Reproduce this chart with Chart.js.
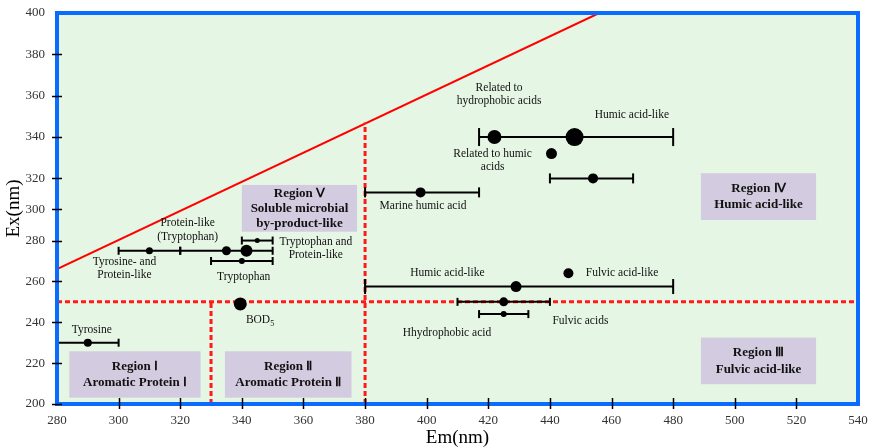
<!DOCTYPE html>
<html><head><meta charset="utf-8">
<script src="https://cdn.jsdelivr.net/npm/chart.js@4.4.0/dist/chart.umd.min.js"></script>
<style>html,body{margin:0;padding:0;background:#fff}#wrap{width:869px;height:448px}</style>
</head><body><div id="wrap"><canvas id="c" width="869" height="448"></canvas></div>
<script>
// ---------- data ----------
const xTickValues = [280, 300, 320, 340, 360, 380, 400, 420, 440, 460, 480, 500, 520, 540];
const yTickValues = [200, 220, 240, 260, 280, 300, 320, 340, 360, 380, 400];

// fluorescence peaks (Em, Ex) and their Em ranges
const emValues = [290, 310, 335, 341.5, 345, 340, 339.5, 398, 422, 448, 440.5, 454, 429, 446, 425, 425];
const exValues = [230, 275, 275, 275, 280, 270, 249, 311, 340, 340, 332, 320, 257.5, 264, 250, 244];
const emLow  = [280, 300, 320, null, 340, 330, null, 380, 417, null, null, 440, 380, null, 410, 417];
const emHigh = [300, 320, 350, null, 350, 350, null, 417, 480, null, null, 467, 480, null, 440, 433];

// boundary lines
const diagEm = [280, 456];
const diagEx = [266, 400];
const hBoundaryEm = [280, 540];
const hBoundaryEx = [250, 250];
const v1BoundaryEm = [330, 330];
const v1BoundaryEx = [200, 250];
const v2BoundaryEm = [380, 380];
const v2BoundaryEx = [200, 347];

// region labels
const regionNames = [
  ['Region Ⅰ', 'Aromatic Protein Ⅰ'],
  ['Region Ⅱ', 'Aromatic Protein Ⅱ'],
  ['Region Ⅴ', 'Soluble microbial', 'by-product-like'],
  ['Region Ⅳ', 'Humic acid-like'],
  ['Region Ⅲ', 'Fulvic acid-like']
];
const regionEmRange = [[284, 326.6], [334.5, 375.6], [340, 377.4], [489, 526.4], [489, 526.4]];
const regionExRange = [[203.1, 225.8], [203.1, 225.8], [285.7, 315.8], [293.2, 322.5], [209.7, 232.5]];

// peak annotations
const annotationTexts = [
  ['Tyrosine'], ['Tyrosine- and', 'Protein-like'], ['Protein-like', '(Tryptophan)'],
  ['Tryptophan and', 'Protein-like'], ['Tryptophan'], ['BOD'], ['Marine humic acid'],
  ['Related to', 'hydrophobic acids'], ['Humic acid-like'], ['Related to humic', 'acids'],
  ['Humic acid-like'], ['Fulvic acid-like'], ['Fulvic acids'], ['Hhydrophobic acid']
];
const annotationSub = ['', '', '', '', '', '5', '', '', '', '', '', '', '', ''];
const annotationEm = [291.3, 301.9, 322.4, 364, 340.6, 345.9, 398.8, 423.5, 466.6, 421.4, 406.7, 463.4, 449.9, 406.6];
const annotationEx = [236.3, 266.4, 286.8, 276.2, 262.3, 241.2, 302.3, 360.6, 350.5, 328.6, 264.2, 264.2, 240.4, 234.7];

// ---------- styles ----------
const pointRadius = [4, 3.5, 4.5, 6, 2.5, 3, 6.5, 5, 7, 9, 5.5, 5, 5.5, 5, 4.5, 3];
const capHalf = [4, 4, 4, 0, 4, 4, 0, 5, 9, 0, 0, 5, 7.5, 0, 4, 4];
const SERIF = '"Liberation Serif", "Times New Roman", serif';

// piecewise y axis (the reference axis is compressed between 280 and 320)
const Y_BREAKS = [200, 280, 320, 400];
const Y_DECIMALS = [0, 0.418, 0.577, 1];
function toDec(v) {
  for (let i = 0; i < Y_BREAKS.length - 1; i++) {
    if (v <= Y_BREAKS[i + 1] || i === Y_BREAKS.length - 2) {
      const t = (v - Y_BREAKS[i]) / (Y_BREAKS[i + 1] - Y_BREAKS[i]);
      return Y_DECIMALS[i] + t * (Y_DECIMALS[i + 1] - Y_DECIMALS[i]);
    }
  }
  return 0;
}
function fromDec(d) {
  for (let i = 0; i < Y_DECIMALS.length - 1; i++) {
    if (d <= Y_DECIMALS[i + 1] || i === Y_DECIMALS.length - 2) {
      const t = (d - Y_DECIMALS[i]) / (Y_DECIMALS[i + 1] - Y_DECIMALS[i]);
      return Y_BREAKS[i] + t * (Y_BREAKS[i + 1] - Y_BREAKS[i]);
    }
  }
  return 200;
}
class PiecewiseLinearScale extends Chart.LinearScale {
  getPixelForValue(value) {
    if (value === null || value === undefined || isNaN(value)) return NaN;
    return this.getPixelForDecimal(toDec(value));
  }
  getValueForPixel(pixel) {
    return fromDec(this.getDecimalForPixel(pixel));
  }
}
PiecewiseLinearScale.id = 'piecewiseLinear';
PiecewiseLinearScale.defaults = Chart.LinearScale.defaults;
Chart.register(PiecewiseLinearScale);

// ---------- datasets ----------
const pts = (xs, ys) => xs.map((x, i) => ({x: x, y: ys[i]}));
const datasets = [];
datasets.push({
  label: 'peaks', data: pts(emValues, exValues), pointRadius: pointRadius,
  pointBackgroundColor: '#000', pointBorderColor: '#000', pointBorderWidth: 0, order: 0
});
emLow.forEach((lo, i) => {
  if (lo === null) return;
  datasets.push({
    label: 'range' + i, data: pts([lo, emHigh[i]], [exValues[i], exValues[i]]), showLine: true,
    borderColor: '#000', borderWidth: 2, pointStyle: 'line', pointRotation: 90,
    pointRadius: capHalf[i], pointBorderColor: '#000', pointBorderWidth: 2, order: 1
  });
});
[[hBoundaryEm, hBoundaryEx], [v1BoundaryEm, v1BoundaryEx], [v2BoundaryEm, v2BoundaryEx]].forEach((b, k) => {
  datasets.push({
    label: 'boundary' + k, data: pts(b[0], b[1]), showLine: true, borderColor: '#ff1a1a',
    borderWidth: 3, borderDash: [5, 3], pointRadius: 0, order: 2
  });
});
datasets.push({
  label: 'diagonal', data: pts(diagEm, diagEx), showLine: true, borderColor: '#ff0000',
  borderWidth: 2, pointRadius: 0, order: 3
});

// ---------- plugins ----------
const decorPlugin = {
  id: 'decor',
  beforeDraw(chart) {
    const {ctx, chartArea: a} = chart;
    ctx.save();
    ctx.fillStyle = '#e6f6e5';
    ctx.fillRect(a.left, a.top, a.right - a.left, a.bottom - a.top);
    ctx.restore();
  },
  beforeDatasetsDraw(chart) {
    const {ctx, scales: {x, y}} = chart;
    ctx.save();
    regionNames.forEach((lines, i) => {
      const x0 = x.getPixelForValue(regionEmRange[i][0]);
      const x1 = x.getPixelForValue(regionEmRange[i][1]);
      const y0 = y.getPixelForValue(regionExRange[i][1]);
      const y1 = y.getPixelForValue(regionExRange[i][0]);
      ctx.fillStyle = '#d3cbdf';
      ctx.fillRect(x0, y0, x1 - x0, y1 - y0);
      ctx.fillStyle = '#111';
      ctx.font = 'bold 13px ' + SERIF;
      ctx.textAlign = 'center';
      ctx.textBaseline = 'middle';
      const lh = lines.length > 2 ? 15 : 16.5;
      const cx = (x0 + x1) / 2, cy = (y0 + y1) / 2;
      lines.forEach((t, j) => ctx.fillText(t, cx, cy + (j - (lines.length - 1) / 2) * lh));
    });
    ctx.restore();
  },
  afterDatasetsDraw(chart) {
    const {ctx, scales: {x, y}} = chart;
    ctx.save();
    ctx.fillStyle = '#111';
    ctx.textBaseline = 'middle';
    annotationTexts.forEach((lines, i) => {
      const cx = x.getPixelForValue(annotationEm[i]);
      const cy = y.getPixelForValue(annotationEx[i]);
      const lh = 13.6;
      ctx.font = '11.5px ' + SERIF;
      if (annotationSub[i]) {
        const w1 = ctx.measureText(lines[0]).width;
        ctx.font = '8px ' + SERIF;
        const w2 = ctx.measureText(annotationSub[i]).width;
        const sx = cx - (w1 + w2) / 2;
        ctx.textAlign = 'left';
        ctx.font = '11.5px ' + SERIF;
        ctx.fillText(lines[0], sx, cy);
        ctx.font = '8px ' + SERIF;
        ctx.fillText(annotationSub[i], sx + w1, cy + 4);
        return;
      }
      ctx.textAlign = 'center';
      lines.forEach((t, j) => ctx.fillText(t, cx, cy + (j - (lines.length - 1) / 2) * lh));
    });
    ctx.restore();
  },
  afterDraw(chart) {
    const {ctx, chartArea: a, scales: {x, y}} = chart;
    ctx.save();
    ctx.strokeStyle = '#0a6cff';
    ctx.lineWidth = 4;
    ctx.strokeRect(a.left, a.top, a.right - a.left, a.bottom - a.top);
    ctx.strokeStyle = '#000';
    ctx.lineWidth = 1.5;
    ctx.beginPath();
    yTickValues.forEach(v => {
      if (v === 400) return;
      const py = Math.round(y.getPixelForValue(v)) + 0.5;
      ctx.moveTo(a.left - 5, py); ctx.lineTo(a.left + 5, py);
    });
    xTickValues.forEach(v => {
      if (v === 280 || v === 540) return;
      const px = Math.round(x.getPixelForValue(v)) + 0.5;
      ctx.moveTo(px, a.bottom - 6); ctx.lineTo(px, a.bottom + 5);
    });
    ctx.stroke();
    ctx.restore();
  }
};

// ---------- chart ----------
new Chart(document.getElementById('c').getContext('2d'), {
  type: 'scatter',
  data: {datasets: datasets},
  options: {
    responsive: false, animation: false, devicePixelRatio: 1,
    layout: {padding: {top: 13, right: 9, left: 0, bottom: 0}},
    plugins: {legend: {display: false}, tooltip: {enabled: false}},
    scales: {
      x: {
        type: 'linear', min: 280, max: 540,
        afterBuildTicks: s => { s.ticks = xTickValues.map(v => ({value: v})); },
        afterFit: s => { s.height = 44; s.paddingLeft = 0; s.paddingRight = 0; },
        grid: {display: false, drawTicks: false}, border: {display: false},
        ticks: {padding: 9, color: '#333', font: {family: SERIF, size: 13}, maxRotation: 0, autoSkip: false},
        title: {display: true, text: 'Em(nm)', color: '#000', font: {family: SERIF, size: 19, lineHeight: 1.0}, padding: {top: 0, bottom: 0}}
      },
      y: {
        type: 'piecewiseLinear', min: 200, max: 400,
        afterBuildTicks: s => { s.ticks = yTickValues.map(v => ({value: v})); },
        afterFit: s => { s.width = 57; s.paddingTop = 0; s.paddingBottom = 0; },
        grid: {display: false, drawTicks: false}, border: {display: false},
        ticks: {padding: 12, color: '#333', font: {family: SERIF, size: 13}, autoSkip: false},
        title: {display: true, text: 'Ex(nm)', color: '#000', font: {family: SERIF, size: 19, lineHeight: 1.0}, padding: {top: 5, bottom: 0}}
      }
    }
  },
  plugins: [decorPlugin]
});
</script>
</body></html>
